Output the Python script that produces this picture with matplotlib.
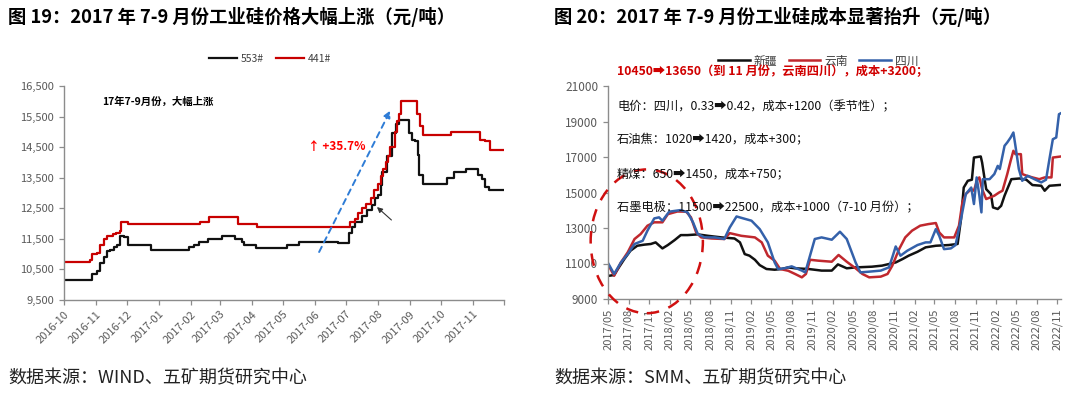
import matplotlib
matplotlib.use("Agg")
import matplotlib.pyplot as plt
import matplotlib.dates as mdates
from matplotlib.patches import Ellipse
from matplotlib.ticker import FuncFormatter
import pandas as pd

plt.rcParams['font.family'] = ['Noto Sans CJK SC', 'DejaVu Sans']

# ---------------- Left chart data (price, yuan/ton) ----------------
left_title = "图 19：2017 年 7-9 月份工业硅价格大幅上涨（元/吨）"
left_source = "数据来源：WIND、五矿期货研究中心"
left_series_names = ["553#", "441#"]

p441_dates = ['2016-10-01', '2016-10-26', '2016-10-28', '2016-11-02', '2016-11-05', '2016-11-09',
              '2016-11-12', '2016-11-17', '2016-11-20', '2016-11-24', '2016-11-25', '2016-12-02',
              '2017-02-10', '2017-02-18', '2017-03-18', '2017-04-06', '2017-07-05', '2017-07-10',
              '2017-07-13', '2017-07-17', '2017-07-20', '2017-07-25', '2017-07-28', '2017-08-01',
              '2017-08-04', '2017-08-06', '2017-08-09', '2017-08-11', '2017-08-13', '2017-08-17',
              '2017-08-19', '2017-08-21', '2017-08-23', '2017-09-08', '2017-09-11', '2017-09-14',
              '2017-10-11', '2017-11-08', '2017-11-13', '2017-11-17', '2017-12-01']
p441_vals = [10750, 10800, 11000, 11050, 11300, 11500, 11600, 11650, 11700, 11750, 12050, 12000,
             12050, 12200, 12000, 11900, 12050, 12150, 12350, 12500, 12650, 12850, 13100, 13300,
             13550, 13800, 14000, 14200, 14500, 15000, 15350, 15600, 16000, 15600, 15200, 14900,
             15000, 14750, 14700, 14400, 14400]

p553_dates = ['2016-10-01', '2016-10-28', '2016-11-02', '2016-11-05', '2016-11-09', '2016-11-12',
              '2016-11-15', '2016-11-18', '2016-11-21', '2016-11-24', '2016-11-28', '2016-12-02',
              '2016-12-24', '2017-01-30', '2017-02-04', '2017-02-09', '2017-02-17', '2017-03-03',
              '2017-03-16', '2017-03-22', '2017-03-24', '2017-04-05', '2017-05-05', '2017-05-17',
              '2017-06-23', '2017-07-04', '2017-07-07', '2017-07-10', '2017-07-17', '2017-07-21',
              '2017-07-26', '2017-07-29', '2017-08-01', '2017-08-04', '2017-08-05', '2017-08-10',
              '2017-08-15', '2017-08-18', '2017-08-21', '2017-08-31', '2017-09-03', '2017-09-06',
              '2017-09-09', '2017-09-10', '2017-09-14', '2017-10-07', '2017-10-14', '2017-10-25',
              '2017-11-06', '2017-11-10', '2017-11-13', '2017-11-16', '2017-12-01']
p553_vals = [10150, 10350, 10450, 10700, 10900, 11100, 11150, 11250, 11300, 11600, 11550, 11300,
             11150, 11250, 11300, 11400, 11500, 11600, 11500, 11400, 11300, 11200, 11300, 11400,
             11350, 11700, 11900, 12050, 12250, 12450, 12600, 12850, 12950, 13250, 13700, 14200,
             14950, 15250, 15400, 14950, 14750, 14700, 14250, 13600, 13300, 13500, 13700, 13800,
             13600, 13450, 13200, 13100, 13100]

left_yticks = [9500, 10500, 11500, 12500, 13500, 14500, 15500, 16500]
left_xticks = ['2016-10', '2016-11', '2016-12', '2017-01', '2017-02', '2017-03', '2017-04',
               '2017-05', '2017-06', '2017-07', '2017-08', '2017-09', '2017-10', '2017-11']
left_note = "17年7-9月份，大幅上涨"
left_pct = "↑ +35.7%"

# ---------------- Right chart data (cost, yuan/ton) ----------------
right_title = "图 20：2017 年 7-9 月份工业硅成本显著抬升（元/吨）"
right_source = "数据来源：SMM、五矿期货研究中心"
right_series_names = ["新疆", "云南", "四川"]
right_base = '2017-05-01'   # month offsets below are counted from this date

xj_m = [0, 0.9, 1.6, 2.4, 3.3, 4.3, 5.3, 6.3, 7.0, 8.0, 8.8, 9.8, 10.7, 11.7, 13.2, 14.7, 16.7,
        18.6, 19.4, 20.1, 20.8, 21.6, 22.3, 23.3, 24.5, 25.5, 26.5, 27.5, 29.5, 31.4, 32.9, 33.8,
        35.1, 36.4, 38.8, 40.3, 41.3, 42.3, 43.3, 44.2, 45.5, 46.7, 48.2, 50.1, 51.4, 51.9, 52.3,
        52.9, 53.5, 53.8, 54.8, 55.0, 55.6, 56.3, 56.6, 57.3, 57.8, 58.3, 59.3, 60.5, 61.5, 62.4,
        63.7, 64.2, 64.9, 66.6]
xj_v = [10300, 10350, 10780, 11250, 11720, 12000, 12060, 12100, 12190, 11850, 12040, 12320, 12600,
        12600, 12640, 12560, 12470, 12410, 12190, 11530, 11440, 11210, 10910, 10690, 10650, 10690,
        10780, 10730, 10690, 10600, 10600, 10950, 10730, 10780, 10820, 10880, 10970, 11060, 11250,
        11440, 11660, 11910, 12000, 12040, 12100, 13500, 15280, 15660, 15720, 16970, 17030, 16690,
        15190, 14910, 14160, 14070, 14250, 14820, 15750, 15790, 15720, 15420, 15380, 15100, 15380,
        15430]

yn_m = [0, 0.9, 1.9, 2.9, 3.9, 4.8, 5.8, 6.8, 8.0, 8.8, 10.2, 11.5, 12.2, 12.96, 13.7, 15.2, 17.1,
        17.9, 19.6, 21.6, 22.6, 23.5, 24.5, 25.3, 26.5, 27.5, 28.5, 29.1, 29.7, 30.9, 32.9, 33.9,
        35.1, 36.4, 37.4, 38.4, 40.1, 41.1, 41.8, 42.8, 43.7, 44.7, 45.9, 47.1, 48.2, 48.7, 49.4,
        50.9, 51.6, 52.1, 52.6, 53.4, 53.8, 54.3, 54.6, 55.0, 55.6, 56.8, 57.5, 58.0, 58.7, 59.2,
        59.6, 59.9, 60.7, 60.9, 61.6, 62.4, 63.4, 64.2, 65.2, 65.4, 66.6]
yn_v = [10950, 10310, 11060, 11630, 12380, 12660, 13130, 13320, 13320, 13780, 13930, 13920, 13600,
        12750, 12470, 12410, 12380, 12710, 12560, 12470, 12190, 11440, 11160, 10690, 10590, 10410,
        10220, 10410, 11210, 11160, 11100, 11480, 11100, 10730, 10410, 10220, 10260, 10410, 10880,
        11810, 12470, 12850, 13130, 13220, 13280, 12750, 12470, 12470, 13130, 14440, 14910, 15190,
        15100, 15750, 15850, 15190, 14630, 14820, 15000, 15100, 16040, 16790, 17350, 17160, 17160,
        16040, 15940, 15850, 15750, 15850, 15850, 16970, 17030]

sc_m = [0, 0.9, 1.9, 2.9, 3.9, 5.1, 5.8, 6.8, 7.5, 8.0, 9.0, 10.7, 11.7, 12.5, 13.2, 14.2, 15.7,
        17.1, 17.9, 18.9, 19.9, 21.1, 22.3, 23.5, 24.5, 25.0, 26.0, 27.0, 28.5, 29.0, 29.7, 30.4,
        31.4, 32.9, 34.1, 35.1, 36.4, 37.1, 38.4, 40.1, 41.3, 41.8, 42.3, 43.0, 44.0, 45.5, 46.7,
        47.4, 48.2, 48.7, 49.4, 50.4, 51.1, 51.9, 52.6, 53.4, 53.8, 54.2, 54.6, 54.9, 55.1, 56.1,
        56.8, 57.3, 57.6, 58.3, 58.7, 59.2, 59.6, 59.9, 60.4, 60.9, 61.7, 62.7, 63.7, 64.4, 64.9,
        65.4, 65.9, 66.3, 66.6]
sc_v = [11030, 10410, 11060, 11530, 12100, 12280, 12850, 13540, 13600, 13410, 13920, 14010, 13880,
        13320, 12660, 12470, 12470, 12380, 13030, 13650, 13540, 13410, 12940, 12190, 11060, 10690,
        10730, 10840, 10600, 10500, 11440, 12380, 12470, 12340, 12790, 12380, 11060, 10500, 10540,
        10600, 10780, 11350, 11960, 11440, 11720, 12040, 12190, 12190, 12940, 12560, 11810, 11850,
        12040, 13500, 14910, 15280, 14350, 15850, 14820, 13880, 15750, 15750, 16040, 16500, 16320,
        17630, 17820, 18100, 18380, 17630, 16320, 15660, 15940, 15750, 15570, 15720, 16880, 18000,
        18100, 19410, 19470]

right_yticks = [9000, 11000, 13000, 15000, 17000, 19000, 21000]
right_notes = ["10450➡13650（到 11 月份，云南四川），成本+3200；",
               "电价：四川，0.33➡0.42，成本+1200（季节性）；",
               "石油焦：1020➡1420，成本+300；",
               "精煤：650➡1450，成本+750；",
               "石墨电极：11500➡22500，成本+1000（7-10 月份）；"]

# ---------------- Figure ----------------
W, H = 1080, 394
fig = plt.figure(figsize=(W / 100, H / 100), dpi=100)
fig.patch.set_facecolor('white')

def fx(px):
    return px / W

def fy(py):
    return 1 - py / H

TICK_C = '#595959'
SPINE_C = '#8c8c8c'
BLACK = '#111111'
RED_L = '#C80000'
RED_R = '#C0282E'
BLUE_R = '#3461AA'

def style_axes(ax):
    for s in ['top', 'right']:
        ax.spines[s].set_visible(False)
    for s in ['left', 'bottom']:
        ax.spines[s].set_color(SPINE_C)
        ax.spines[s].set_linewidth(1.0)
    ax.tick_params(axis='both', colors=SPINE_C, labelcolor=TICK_C, length=3.5, width=0.9,
                   direction='out')

# ---- left axes ----
axL = fig.add_axes([fx(64), fy(300), fx(504) - fx(64), fy(86) - fy(300)])
style_axes(axL)
d553 = pd.to_datetime(p553_dates)
d441 = pd.to_datetime(p441_dates)
axL.plot(d553, p553_vals, drawstyle='steps-post', color=BLACK, lw=1.6, label=left_series_names[0])
axL.plot(d441, p441_vals, drawstyle='steps-post', color=RED_L, lw=1.6, label=left_series_names[1])
axL.set_xlim(pd.Timestamp('2016-10-01'), pd.Timestamp('2017-12-01'))
axL.set_ylim(left_yticks[0], left_yticks[-1])
axL.set_yticks(left_yticks)
axL.yaxis.set_major_formatter(FuncFormatter(lambda v, p: f"{int(v):,}"))
xt = pd.to_datetime([s + '-01' for s in left_xticks])
axL.set_xticks(list(xt) + [pd.Timestamp('2017-12-01')])
axL.set_xticklabels(left_xticks + [''], rotation=45, ha='right', rotation_mode='anchor', fontsize=8)
axL.tick_params(axis='y', labelsize=8)
axL.tick_params(axis='x', pad=3)

axL.legend(loc='center', bbox_to_anchor=(fx(270), fy(59)), bbox_transform=fig.transFigure,
           ncol=2, frameon=False, fontsize=7.5, handlelength=2.7, columnspacing=1.2,
           handletextpad=0.3, labelcolor='#404040')

fig.text(fx(102), fy(102), left_note, fontsize=7.5, fontweight='bold', va='center', ha='left')
fig.text(fx(308), fy(147), left_pct, fontsize=8.5, fontweight='bold', color='#FF0000',
         va='center', ha='left')
axL.annotate('', xy=(pd.Timestamp('2017-08-13'), 15700), xytext=(pd.Timestamp('2017-06-05'), 11070),
             arrowprops=dict(arrowstyle='-|>', color='#2E7CD6', lw=1.4, linestyle=(0, (3, 2.5)),
                             mutation_scale=10, shrinkA=0, shrinkB=0))
axL.annotate('', xy=(pd.Timestamp('2017-07-31'), 12540), xytext=(pd.Timestamp('2017-08-14'), 12117),
             arrowprops=dict(arrowstyle='-|>', color='#333333', lw=0.8, mutation_scale=8,
                             shrinkA=0, shrinkB=0))

fig.text(fx(8), fy(17), left_title, fontsize=13.2, fontweight='bold', va='center', ha='left')
fig.text(fx(8), fy(378), left_source, fontsize=13, va='center', ha='left', color='#222222')

# ---- right axes ----
axR = fig.add_axes([fx(608), fy(299), fx(1061) - fx(608), fy(86) - fy(299)])
style_axes(axR)
base = pd.Timestamp(right_base)

def mdates_from(months):
    return base + pd.to_timedelta([m * 30.44 for m in months], unit='D')

axR.plot(mdates_from(xj_m), xj_v, color=BLACK, lw=1.8, label=right_series_names[0])
axR.plot(mdates_from(yn_m), yn_v, color=RED_R, lw=1.8, label=right_series_names[1])
axR.plot(mdates_from(sc_m), sc_v, color=BLUE_R, lw=1.8, label=right_series_names[2])
axR.set_xlim(base, base + pd.to_timedelta(66.6 * 30.44, unit='D'))
axR.set_ylim(right_yticks[0], right_yticks[-1])
axR.set_yticks(right_yticks)
rt = pd.date_range('2017-05-01', '2022-11-01', freq='3MS')
axR.set_xticks(rt)
axR.xaxis.set_major_formatter(mdates.DateFormatter('%Y/%m'))
axR.tick_params(axis='x', labelrotation=90, labelsize=8)
axR.tick_params(axis='y', labelsize=8.5)

axR.legend(loc='center', bbox_to_anchor=(fx(818), fy(61)), bbox_transform=fig.transFigure,
           ncol=3, frameon=False, fontsize=8.5, handlelength=2.7, columnspacing=1.0,
           handletextpad=0.3, labelcolor='#404040')

note_y = [72, 106.5, 140, 174, 208]
for i, (txt, py) in enumerate(zip(right_notes, note_y)):
    if i == 0:
        fig.text(fx(617), fy(py), txt, fontsize=8.8, fontweight='bold', color='#D00000',
                 va='center', ha='left')
    else:
        fig.text(fx(617), fy(py), txt, fontsize=8.8, color='#111111', va='center', ha='left')

ell_center = base + pd.to_timedelta(5.7 * 30.44, unit='D')
ell = Ellipse((mdates.date2num(ell_center), 12250), width=16.5 * 30.44, height=8100,
              fill=False, edgecolor='#D01010', lw=1.8, linestyle=(0, (5, 4)), clip_on=False,
              zorder=5)
axR.add_patch(ell)

fig.text(fx(554), fy(17), right_title, fontsize=13.2, fontweight='bold', va='center', ha='left')
fig.text(fx(554), fy(378), right_source, fontsize=13, va='center', ha='left', color='#222222')

fig.savefig('out.png', dpi=100, facecolor='white')
